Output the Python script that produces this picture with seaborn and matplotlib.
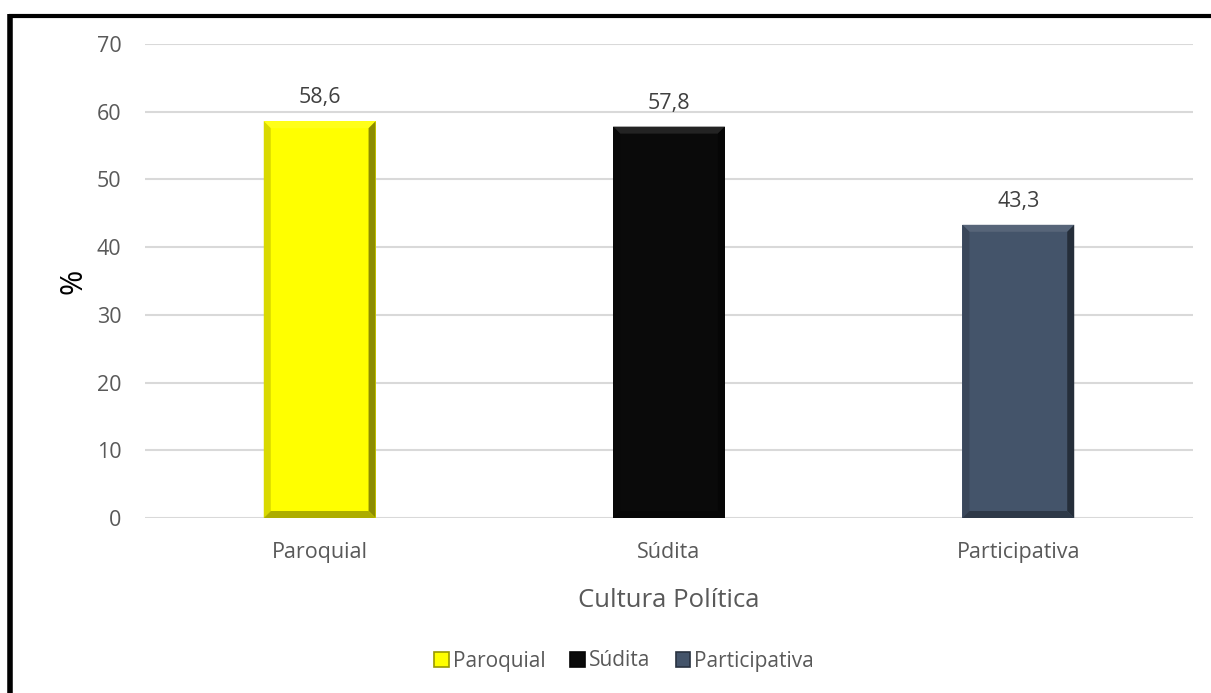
import matplotlib
matplotlib.use("Agg")
import matplotlib.pyplot as plt
import seaborn as sns
import pandas as pd
import numpy as np
from matplotlib.patches import Patch, Polygon
from matplotlib.lines import Line2D
from matplotlib.colors import to_rgb

categorias = ["Paroquial", "Súdita", "Participativa"]
valores = [58.6, 57.8, 43.3]
rotulos = ["58,6", "57,8", "43,3"]
cores = ["#FFFF00", "#0A0A0A", "#44546A"]
yticks = [0, 10, 20, 30, 40, 50, 60, 70]

df = pd.DataFrame({"Cultura": categorias, "Valor": valores})

sns.set_theme(style="white")
plt.rcParams["font.family"] = ["Open Sans", "DejaVu Sans"]
texto = "#595959"


def tom(cor, f):
    """f < 1 escurece, f > 1 clareia em direção ao branco."""
    c = np.array(to_rgb(cor))
    if f <= 1:
        return tuple(c * f)
    return tuple(c + (1 - c) * (f - 1))


fig = plt.figure(figsize=(12.11, 6.93), dpi=100)
ax = fig.add_axes([145 / 1211, 1 - 518 / 693, 1048 / 1211, 474 / 693])

sns.barplot(data=df, x="Cultura", y="Valor", hue="Cultura", palette=cores,
            saturation=1, width=0.32, dodge=False, legend=False, ax=ax, zorder=3)

ax.set_ylim(0, 70)
ax.set_xlim(-0.5, 2.5)

# efeito de chanfro nas barras
bx = 7 / (1048 / 3)   # largura do chanfro em unidades de x
by = 7 / (474 / 70)   # altura do chanfro em unidades de y
for patch, cor in zip(ax.patches, cores):
    x0, w, h = patch.get_x(), patch.get_width(), patch.get_height()
    x1 = x0 + w
    patch.set_edgecolor("none")
    faces = [
        ([(x0, h), (x1, h), (x1 - bx, h - by), (x0 + bx, h - by)], tom(cor, 1.1)),
        ([(x0, 0), (x0, h), (x0 + bx, h - by), (x0 + bx, by)], tom(cor, 0.85)),
        ([(x1, 0), (x1, h), (x1 - bx, h - by), (x1 - bx, by)], tom(cor, 0.55)),
        ([(x0, 0), (x1, 0), (x1 - bx, by), (x0 + bx, by)], tom(cor, 0.68)),
    ]
    for pts, c in faces:
        ax.add_patch(Polygon(pts, closed=True, facecolor=c, edgecolor="none", zorder=4))

for i, (v, r) in enumerate(zip(valores, rotulos)):
    ax.text(i, v + 1.9, r, ha="center", va="bottom", fontsize=15.5, color="#404040")

ax.set_yticks(yticks)
ax.set_yticklabels([str(t) for t in yticks], fontsize=15.5, color=texto)
ax.tick_params(axis="x", labelsize=15.5, colors=texto, length=0, pad=17)
ax.tick_params(axis="y", length=0, pad=17)
ax.yaxis.grid(True, color="#D9D9D9", linewidth=1.5, zorder=0)
ax.set_axisbelow(True)
for s in ax.spines.values():
    s.set_visible(False)

ax.set_xlabel("Cultura Política", fontsize=18.5, color=texto, labelpad=18)
ax.set_ylabel("%", fontsize=22, color="#000000", labelpad=6)

handles = [Patch(facecolor=c, edgecolor=tom(c, 0.6), linewidth=1.2) for c in cores]
fig.legend(handles, categorias, loc="center", bbox_to_anchor=(624 / 1211, 1 - 661 / 693),
           ncol=3, frameon=False, fontsize=15, handlelength=0.7, handleheight=0.7,
           handletextpad=0.2, columnspacing=1.2, labelcolor=texto)

# moldura preta à esquerda e no topo
fig.add_artist(Line2D([10.5 / 1211, 10.5 / 1211], [0, 1 - 14 / 693], color="black",
                      linewidth=4, transform=fig.transFigure, solid_capstyle="butt"))
fig.add_artist(Line2D([8.5 / 1211, 1], [1 - 15.5 / 693, 1 - 15.5 / 693], color="black",
                      linewidth=3, transform=fig.transFigure, solid_capstyle="butt"))

fig.savefig("out.png", dpi=100, facecolor="white")
